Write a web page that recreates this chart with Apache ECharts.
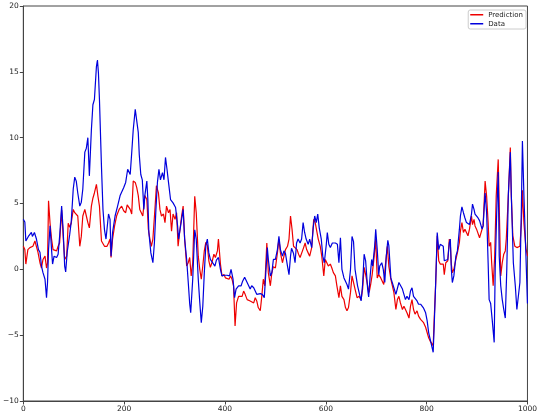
<!DOCTYPE html>
<html><head><meta charset="utf-8">
<script src="https://cdn.jsdelivr.net/npm/echarts@6/dist/echarts.min.js"></script>
<style>html,body{margin:0;padding:0;background:#fff}#c{width:540px;height:416px}</style>
</head><body><div id="c"></div>
<script>
const xTicks = [0, 200, 400, 600, 800, 1000];
const yTicks = [-10, -5, 0, 5, 10, 15, 20];
const seriesNames = ['Prediction', 'Data'];

const predX = [0,3,5,9,13,16,19,23,26,29,33,36,39,43,46,48,50,53,56,59,62,66,69,72,76,79,82,86,89,92,95,99,102,105,108,112,115,118,122,125,128,131,135,138,141,145,148,151,155,158,161,164,166,169,172,174,177,181,185,190,192,195,199,203,206,209,212,215,218,222,225,228,231,234,237,241,245,248,251,254,257,261,264,268,271,274,278,281,284,288,291,294,297,301,304,307,310,314,317,320,324,327,330,333,336,340,343,347,350,353,356,359,362,365,368,371,374,378,381,385,387,391,394,398,401,404,408,411,414,417,420,423,427,430,434,437,440,444,447,450,453,457,460,463,466,470,473,476,479,483,486,490,493,496,500,504,507,510,514,517,520,524,527,530,533,536,539,543,546,549,552,556,559,562,565,568,572,576,579,582,585,589,592,596,599,602,605,609,612,615,619,622,626,629,632,636,639,642,645,649,652,655,658,662,666,670,673,676,679,683,686,689,692,696,699,702,705,709,712,715,718,722,725,729,732,735,739,742,745,748,752,755,758,761,765,768,771,774,777,781,784,788,791,794,798,801,804,807,810,813,815,818,821,824,827,830,833,835,838,842,845,847,849,851,854,858,861,865,867,870,873,876,879,882,885,889,891,894,896,899,902,905,910,912,916,919,922,924,927,929,932,935,938,942,945,947,950,953,956,958,962,966,968,971,975,979,982,985,988,990,993,997,1000];
const predY = [1.75,1.5,0.4,1.5,1.65,1.5,1.75,2.15,2.0,1.3,0.5,0.1,0.75,1.0,0.1,0.5,5.2,3.5,2.3,1.5,1.65,1.4,1.75,2.0,4.5,2.5,0.75,1.0,3.5,3.2,3.5,4.55,4.3,4.25,4.05,1.75,2.5,4.05,4.55,4.05,3.55,3.15,4.8,5.4,5.8,6.45,5.55,4.8,2.15,2.3,1.75,1.75,1.75,2.0,2.3,0.9,2.3,3.3,4.05,4.55,4.7,4.8,4.45,4.3,4.9,4.8,4.55,4.2,6.7,6.6,6.2,5.6,4.55,4.3,4.05,5.6,5.3,3.05,2.3,1.75,2.3,4.55,6.35,5.8,4.55,4.05,4.2,3.55,4.8,4.3,4.55,2.9,4.2,3.8,4.3,1.75,2.8,4.05,4.8,2.3,0.25,0.5,0.9,-0.5,0.5,5.55,4.3,1.0,0,-0.75,0.25,1.4,2.05,1.8,0.65,0.15,0.5,1.15,0.9,1.4,2.3,0.4,-0.5,-0.4,-0.65,-0.5,-0.75,-0.5,-0.75,-1.25,-4.3,-2.55,-2.05,-1.9,-2.05,-1.65,-1.9,-2.3,-2.15,-2.4,-2.3,-2.55,-2.15,-2.4,-2.9,-3.15,-2.05,-0.75,-1.25,2.0,-0.25,-1.25,-0.25,0.2,0.1,1.25,2.3,1.25,0.5,1.0,1.5,1.75,2.3,4.05,3.05,1.75,1.9,1.5,1.15,0.9,1.0,1.65,2.0,1.5,1.25,1.0,1.65,3.8,3.55,3.55,2.3,1.75,1.0,-0.5,0.75,0.5,0.25,0.4,0.1,-0.25,-0.5,-1.25,-2.15,-1.25,-2.05,-2.3,-2.9,-3.15,-2.9,-1.75,-0.5,-0.65,-1.5,-2.15,-2.05,-2.3,-1.5,0.15,-0.4,-1.25,-1.75,-1.15,-0.4,1.0,2.3,-0.65,-0.4,-0.65,-0.75,-1.15,0.25,1.75,0.25,-0.75,-0.9,-1.75,-3.05,-2.3,-2.05,-2.55,-3.05,-2.8,-3.05,-3.3,-3.7,-2.8,-2.3,-3.05,-3.4,-3.15,-3.55,-3.8,-3.7,-4.05,-4.4,-4.8,-5.2,-5.45,-5.3,-5.8,-3.8,-1.0,2.55,0.65,0.4,0.5,0.4,-0.4,0.5,0.65,2.3,1.9,0.4,-0.25,0,0.75,1.25,2.05,2.9,3.55,2.8,3.05,2.8,2.55,3.05,4.05,3.4,3.8,3.3,3.05,3.05,2.4,3.05,3.3,6.7,5.55,3.55,1.75,2.05,0.5,-1.25,1.0,5.55,8.35,3.05,-0.5,0.5,1.15,1.4,2.3,5.55,9.25,5.55,2.55,1.75,1.65,1.75,1.75,3.5,6.0,3.5,1.6,1.0];

const dataX = [0,3,5,10,16,18,22,26,30,33,36,39,43,46,48,50,53,56,58,61,66,69,72,76,79,82,84,87,92,95,99,102,105,108,112,115,118,122,125,128,131,135,138,141,145,147,149,151,155,158,161,164,166,169,172,174,177,182,187,192,199,203,207,212,215,218,222,225,228,230,233,236,239,241,245,247,249,253,257,260,263,266,269,272,276,279,282,285,288,292,297,302,306,308,312,317,320,324,327,330,332,334,336,340,343,347,350,353,356,359,362,365,368,371,374,380,383,387,391,394,399,404,409,412,416,419,422,427,432,435,439,442,447,450,453,457,460,463,466,470,474,478,481,484,486,490,493,496,500,504,507,510,514,517,520,524,527,530,532,536,539,542,545,549,552,555,558,561,565,568,572,575,578,581,584,587,591,594,597,601,603,606,609,613,616,619,623,626,629,632,636,639,642,645,649,652,655,658,663,666,670,673,676,679,683,685,688,691,693,697,699,702,705,707,711,714,717,720,723,725,729,732,735,739,742,745,748,752,755,758,761,765,768,771,774,777,781,784,788,791,794,798,801,804,807,810,813,815,818,821,824,827,830,833,835,838,842,845,847,849,851,854,858,861,865,867,870,873,876,879,882,885,889,891,894,896,899,902,905,910,912,916,919,922,924,927,930,934,936,939,942,944,947,950,953,956,959,962,966,968,972,976,979,981,985,988,990,993,997,1000];
const dataY = [3.8,3.6,2.15,2.5,2.8,2.5,2.8,2.3,1.5,1.3,0.25,-0.25,-0.75,-2.15,-1.0,1.5,3.3,1.5,0.4,1.0,0.9,1.15,2.5,4.8,3.0,0.25,-0.2,1.3,2.65,3.6,6.1,7.0,6.7,5.8,4.8,5.1,6.1,8.9,9.2,10.0,7.1,10.6,12.5,12.9,15.4,15.9,14.9,12.9,7.8,4.55,3.0,2.3,2.4,4.2,3.8,1.0,2.8,4.05,4.8,5.6,6.2,6.6,7.6,7.2,8.85,10.6,12.15,12.1,10.4,8.7,7.2,6.8,4.55,5.6,6.7,5.3,2.8,1.25,0.5,2.0,4.55,6.6,7.6,6.8,7.35,6.8,8.5,7.6,6.6,5.3,5.05,4.7,3.3,2.3,3.3,4.55,2.3,0.75,-0.9,-2.6,-3.3,-3.4,-0.75,3.0,2.3,-0.75,-2.5,-4.05,-2.8,-0.25,1.8,2.3,1.25,0.75,0.75,0.25,0.7,0.9,0,-0.5,-0.45,-0.45,-0.5,0,-0.75,-2.15,-1.5,-1.25,-1.25,-0.9,-0.6,-0.75,-1.25,-1.5,-1.25,-1.4,-1.4,-1.9,-1.85,-1.85,-1.9,-2.15,-0.25,1.65,0.75,-0.5,-0.25,0.75,0.75,1.5,2.5,1.5,1.0,1.4,1.2,0.25,-0.4,1.0,1.6,1.2,0.5,2.0,2.3,2.0,2.3,3.55,2.8,2.3,1.9,2.3,1.65,3.15,4.05,3.55,4.2,3.15,2.3,1.0,0.5,1.9,2.8,1.9,1.65,2.0,1.9,2.0,1.9,0.5,2.4,0,-0.65,-0.75,-1.15,-1.5,0,2.5,2.1,0,-1.25,-1.25,-2.4,-1.15,1.15,0.65,-1.5,-2.1,-0.5,0.75,0.25,1.8,3.05,1.5,-0.4,0.25,0.5,0,-1.0,1.0,2.2,1.8,-0.65,-0.75,-1.4,-1.9,-1.9,-1.0,-1.15,-1.5,-1.9,-2.3,-2.05,-2.3,-1.65,-1.4,-2.05,-2.05,-2.4,-2.65,-2.65,-2.8,-2.95,-3.3,-3.9,-4.8,-5.3,-5.3,-6.3,-4.3,-1.0,2.8,1.5,1.9,2.0,1.75,0.65,0.5,0.75,2.0,2.3,0,-1.0,-0.5,1.0,1.4,3.05,4.05,4.75,4.3,3.9,3.55,3.4,3.4,4.2,4.95,4.55,4.2,4.05,3.9,3.7,3.05,3.3,5.8,4.3,0.5,-2.3,-2.6,-3.8,-5.55,0,4.3,7.4,1.0,-1.25,-2.3,-3.05,-3.7,0,5.6,8.9,5.6,0.5,-1.3,-3.05,-3.05,-1.0,4.8,9.75,5.6,1.0,-2.6];

function pairs(xs, ys) { return xs.map((x, i) => [x, ys[i]]); }
const axisColor = '#444';
const labelStyle = { color: '#222', fontSize: 7.5, fontFamily: 'DejaVu Sans' };

const chart = echarts.init(document.getElementById('c'), null, { renderer: 'canvas' });
chart.setOption({
  animation: false,
  backgroundColor: '#fff',
  grid: { left: 22, right: 12, top: 6, bottom: 15, show: true, borderColor: axisColor, borderWidth: 1, containLabel: false },
  xAxis: {
    type: 'value', min: xTicks[0], max: xTicks[xTicks.length - 1], interval: 200,
    axisLine: { show: true, onZero: false, lineStyle: { color: axisColor, width: 1 } },
    axisTick: { show: true, inside: false, length: 3.5, lineStyle: { color: axisColor } },
    axisLabel: Object.assign({ margin: 4.5, formatter: v => String(v) }, labelStyle),
    splitLine: { show: false }
  },
  yAxis: {
    type: 'value', min: yTicks[0], max: yTicks[yTicks.length - 1], interval: 5,
    axisLine: { show: true, onZero: false, lineStyle: { color: axisColor, width: 1 } },
    axisTick: { show: true, inside: false, length: 3.5, lineStyle: { color: axisColor } },
    axisLabel: Object.assign({ margin: 4.5, formatter: v => v < 0 ? '\u2212' + Math.abs(v) : String(v) }, labelStyle),
    splitLine: { show: false }
  },
  legend: {
    orient: 'vertical', right: 14, top: 10,
    data: seriesNames, icon: 'rect', itemWidth: 13, itemHeight: 1.5, itemGap: 0.5,
    padding: [0.5, 3, 1, 2],
    backgroundColor: 'rgba(255,255,255,0.8)', borderColor: '#ccc', borderWidth: 1, borderRadius: 2,
    textStyle: { color: '#222', fontSize: 7, lineHeight: 8.5, fontFamily: 'DejaVu Sans' }
  },
  series: [
    { name: seriesNames[0], type: 'line', data: pairs(predX, predY), showSymbol: false, symbol: 'none',
      lineStyle: { color: '#ee0000', width: 1.2 }, itemStyle: { color: '#ee0000' }, z: 2 },
    { name: seriesNames[1], type: 'line', data: pairs(dataX, dataY), showSymbol: false, symbol: 'none',
      lineStyle: { color: '#0000dd', width: 1.2 }, itemStyle: { color: '#0000dd' }, z: 3 }
  ]
});
</script></body></html>
